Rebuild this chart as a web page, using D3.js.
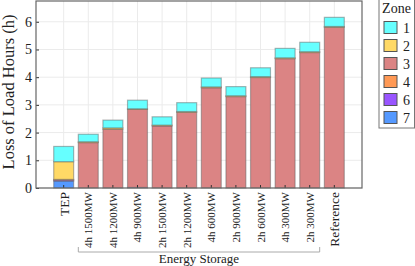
<!DOCTYPE html>
<html>
<head>
<meta charset="utf-8">
<script src="https://cdn.jsdelivr.net/npm/d3@7"></script>
<style>
  body { margin: 0; background: #fff; }
  text { font-family: "Liberation Serif", "Times New Roman", serif; fill: #222; }
</style>
</head>
<body>
<div id="chart"></div>
<script>
var width = 415, height = 266;

// ---------------------------------------------- DATA
var cases = ["TEP", "4h 1500MW", "4h 1200MW", "4h 900MW", "2h 1500MW", "2h 1200MW",
  "4h 600MW", "2h 900MW", "2h 600MW", "4h 300MW", "2h 300MW", "Reference"];
var zones = ["1", "2", "3", "4", "6", "7"];
var zoneColors = ["#66ffff", "#ffd966", "#db8484", "#ff9955", "#9955ff", "#5599ff"];
// stacked bottom -> top: 7, 6, 4, 3, 2, 1
var zone7 = [0.25, 0, 0, 0, 0, 0, 0, 0, 0, 0, 0, 0];
var zone6 = [0.03, 0, 0, 0.02, 0, 0, 0, 0, 0, 0, 0, 0];
var zone4 = [0.03, 0, 0, 0, 0, 0, 0, 0, 0, 0, 0, 0];
var zone3 = [0, 1.64, 2.12, 2.82, 2.24, 2.73, 3.62, 3.30, 3.99, 4.67, 4.89, 5.80];
var zone2 = [0.64, 0.03, 0.05, 0.02, 0.03, 0.03, 0.03, 0.03, 0.03, 0.03, 0.03, 0.03];
var zone1 = [0.55, 0.27, 0.28, 0.31, 0.30, 0.32, 0.32, 0.33, 0.32, 0.34, 0.34, 0.33];
var yTicks = [0, 1, 2, 3, 4, 5, 6];

var rows = cases.map(function (c, i) {
  return { name: c, "7": zone7[i], "6": zone6[i], "4": zone4[i], "3": zone3[i], "2": zone2[i], "1": zone1[i] };
});
var stackOrder = ["7", "6", "4", "3", "2", "1"];

// ---------------------------------------------- SCALES
var pLeft = 36, pRight = 362, pTop = 1, pBottom = 188;

var svg = d3.select("#chart").append("svg")
  .attr("width", width).attr("height", height);

var x = d3.scaleBand().domain(cases).range([pLeft, pRight])
  .paddingInner(0.19).paddingOuter(0.72);
var y = d3.scaleLinear().domain([0, 6.75]).range([pBottom, pTop]);
var color = d3.scaleOrdinal().domain(zones).range(zoneColors);

// grid
svg.append("g").selectAll("line").data(yTicks).enter().append("line")
  .attr("x1", pLeft).attr("x2", pRight)
  .attr("y1", function (d) { return y(d); }).attr("y2", function (d) { return y(d); })
  .attr("stroke", "#ebebeb").attr("stroke-width", 1);
svg.append("g").selectAll("line").data(cases).enter().append("line")
  .attr("x1", function (d) { return x(d) + x.bandwidth() / 2; })
  .attr("x2", function (d) { return x(d) + x.bandwidth() / 2; })
  .attr("y1", pTop).attr("y2", pBottom)
  .attr("stroke", "#ebebeb").attr("stroke-width", 1);

// bars
var series = d3.stack().keys(stackOrder)(rows);
svg.append("g").selectAll("g").data(series).enter().append("g")
  .attr("fill", function (d) { return color(d.key); })
  .selectAll("rect").data(function (d) { return d.filter(function (v) { return v[1] - v[0] > 0; }); })
  .enter().append("rect")
  .attr("x", function (d) { return x(d.data.name); })
  .attr("width", x.bandwidth())
  .attr("y", function (d) { return y(d[1]); })
  .attr("height", function (d) { return y(d[0]) - y(d[1]); })
  .attr("stroke", "rgba(90,90,90,0.45)")
  .attr("stroke-width", 1.2);

// axes
var xAxis = d3.axisBottom(x).tickSize(-3).tickFormat("");
var gx = svg.append("g").attr("transform", "translate(0," + pBottom + ")").call(xAxis);
gx.select(".domain").remove();
gx.selectAll(".tick line").attr("stroke", "#333");

var yAxis = d3.axisLeft(y).tickValues(yTicks).tickFormat(d3.format("d")).tickSize(-3).tickPadding(4);
var gy = svg.append("g").attr("transform", "translate(" + pLeft + ",0)").call(yAxis);
gy.select(".domain").remove();
gy.selectAll(".tick line").attr("stroke", "#333");
gy.selectAll(".tick text").attr("font-size", 14).attr("fill", "#222");

// frame
svg.append("rect").attr("x", pLeft).attr("y", pTop).attr("width", pRight - pLeft).attr("height", pBottom - pTop)
  .attr("fill", "none").attr("stroke", "#666").attr("stroke-width", 1.2);

// category labels
svg.append("g").selectAll("text").data(cases).enter().append("text")
  .attr("transform", function (d) {
    var big = (d === "TEP" || d === "Reference");
    return "translate(" + (x(d) + x.bandwidth() / 2 + (big ? 5 : 4)) + "," + (pBottom + 4) + ") rotate(-90)";
  })
  .attr("text-anchor", "end")
  .attr("font-size", function (d) { return (d === "TEP" || d === "Reference") ? 13.5 : 11; })
  .text(function (d) { return d; });

// y label
svg.append("text")
  .attr("transform", "translate(" + 14 + "," + 92 + ") rotate(-90)")
  .attr("text-anchor", "middle")
  .attr("font-size", 16.5)
  .text("Loss of Load Hours (h)");

// energy storage bracket
var bx1 = x(cases[1]), bx2 = x(cases[10]) + x.bandwidth(), by = 252;
svg.append("path")
  .attr("d", "M" + bx1 + "," + (by - 5) + "V" + by + "H" + bx2 + "V" + (by - 5))
  .attr("fill", "none").attr("stroke", "#aaa").attr("stroke-width", 1);
svg.append("text")
  .attr("x", (bx1 + bx2) / 2).attr("y", 262.5)
  .attr("text-anchor", "middle").attr("font-size", 13)
  .text("Energy Storage");

// legend
var lg = svg.append("g");
lg.append("rect").attr("x", 379).attr("y", -1).attr("width", 35.5).attr("height", 129)
  .attr("fill", "#fff").attr("stroke", "#777").attr("stroke-width", 1);
lg.append("text").attr("x", 396.5).attr("y", 13).attr("text-anchor", "middle")
  .attr("font-size", 14).text("Zone");
var items = lg.selectAll("g.item").data(zones).enter().append("g")
  .attr("transform", function (d, i) { return "translate(384," + (27.5 + i * 18) + ")"; });
items.append("rect").attr("x", 0).attr("y", -6).attr("width", 13).attr("height", 12)
  .attr("fill", function (d) { return color(d); })
  .attr("stroke", "#555").attr("stroke-width", 1);
items.append("text").attr("x", 19).attr("y", 5).attr("font-size", 14)
  .text(function (d) { return d; });
</script>
</body>
</html>
